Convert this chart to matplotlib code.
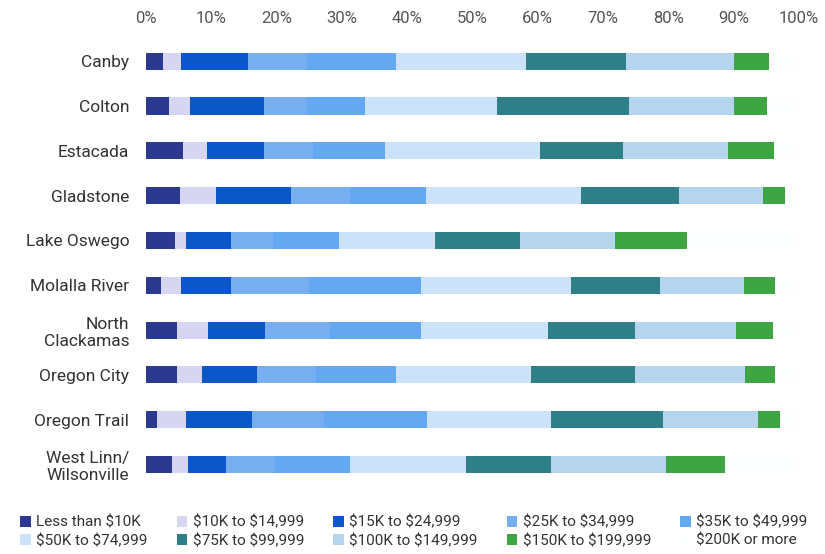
import numpy as np
import matplotlib
matplotlib.use("Agg")
import matplotlib.pyplot as plt

plt.rcParams["font.family"] = ["Roboto", "DejaVu Sans"]
plt.rcParams["text.parse_math"] = False

districts = ["Canby", "Colton", "Estacada", "Gladstone", "Lake Oswego",
             "Molalla River", "North\nClackamas", "Oregon City", "Oregon Trail",
             "West Linn/\nWilsonville"]

brackets = ["Less than $10K", "$10K to $14,999", "$15K to $24,999",
            "$25K to $34,999", "$35K to $49,999", "$50K to $74,999",
            "$75K to $99,999", "$100K to $149,999", "$150K to $199,999",
            "$200K or more"]

# shares in % per district, one list per income bracket
lt_10k    = [2.6, 3.5, 5.7, 5.2, 4.4, 2.3, 4.7, 4.7, 1.7, 4.0]
k10_15    = [2.8, 3.2, 3.6, 5.5, 1.7, 3.1, 4.8, 3.9, 4.4, 2.4]
k15_25    = [10.2, 11.4, 8.8, 11.5, 6.9, 7.6, 8.7, 8.4, 10.1, 5.9]
k25_35    = [9.0, 6.5, 7.5, 9.0, 6.5, 12.0, 10.0, 9.0, 11.0, 7.5]
k35_50    = [13.7, 8.9, 11.0, 11.7, 10.1, 17.1, 13.9, 12.3, 15.8, 11.4]
k50_75    = [19.9, 20.3, 23.7, 23.7, 14.6, 23.0, 19.5, 20.7, 19.0, 17.8]
k75_100   = [15.3, 20.2, 12.7, 15.0, 13.1, 13.6, 13.3, 15.9, 17.2, 13.0]
k100_150  = [16.5, 16.0, 16.1, 12.9, 14.5, 12.9, 15.5, 16.8, 14.5, 17.6]
k150_200  = [5.4, 5.1, 7.1, 3.4, 11.0, 4.7, 5.6, 4.6, 3.4, 9.1]
k200_plus = [4.6, 4.9, 3.8, 2.1, 17.2, 3.7, 4.0, 3.7, 2.9, 11.3]

series = [lt_10k, k10_15, k15_25, k25_35, k35_50, k50_75,
          k75_100, k100_150, k150_200, k200_plus]

colors = ["#2c3990", "#d6d6f3", "#0b57c8", "#76aeef", "#63a8f1",
          "#cce2f9", "#2e7f88", "#b5d4ee", "#3da543", "#fdfeff"]

fig = plt.figure(figsize=(8.25, 5.54), dpi=100)
ax = fig.add_axes([0.177, 0.121, 0.7915, 0.809])

y = np.arange(len(districts))
left = np.zeros(len(districts))
handles = []
for vals, col, lab in zip(series, colors, brackets):
    h = ax.barh(y, vals, left=left, height=0.38, color=col, label=lab,
                linewidth=0)
    handles.append(h)
    left += np.array(vals)

ax.set_xlim(0, 100)
ax.set_ylim(len(districts) - 0.5, -0.5)
ax.set_yticks(y)
ax.set_yticklabels(districts, fontsize=12.5, color="#333333")
ax.set_xticks(np.arange(0, 101, 10))
ax.set_xticklabels([f"{v}%" for v in range(0, 101, 10)], fontsize=12,
                   color="#555555")
ax.xaxis.tick_top()
ax.tick_params(axis="x", length=0, pad=9)
ax.tick_params(axis="y", length=0, pad=12)
for s in ax.spines.values():
    s.set_visible(False)

# legend filled row by row
order = [0, 5, 1, 6, 2, 7, 3, 8, 4, 9]
fig.legend([handles[i] for i in order], [brackets[i] for i in order],
           loc="lower left", bbox_to_anchor=(0.008, -0.014), ncol=5,
           frameon=False, fontsize=11, handlelength=0.7, handleheight=0.7,
           handletextpad=0.35, columnspacing=1.9, labelspacing=0.28,
           labelcolor="#333333")

plt.savefig("out.png", dpi=100)
plt.close()
